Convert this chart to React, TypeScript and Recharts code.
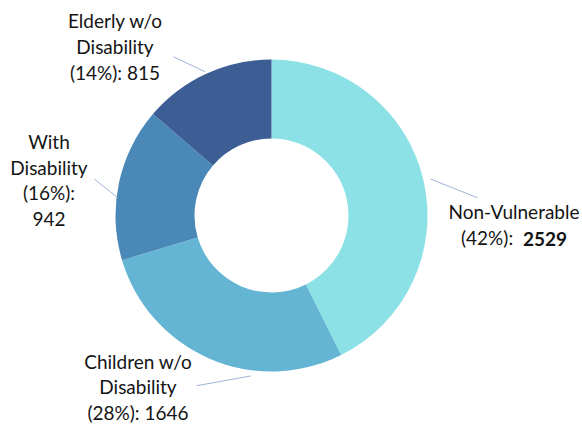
import React from "react";
import { PieChart, Pie, Cell } from "recharts";

const categories = ["Non-Vulnerable", "Children w/o Disability", "With Disability", "Elderly w/o Disability"];
const categoryLines = [["Non-Vulnerable"], ["Children w/o", "Disability"], ["With", "Disability"], ["Elderly w/o", "Disability"]];
const values = [2529, 1646, 942, 815];
const percentLabels = ["42%", "28%", "16%", "14%"];
const colors = ["#8be1e6", "#64b5d3", "#4a89b7", "#3c5e95"];

const data = categories.map((name, i) => ({ name, value: values[i] }));

// label layout relative to pie center: text center x, first line y, line gap, leader line
const LABEL_LAYOUT = [
  { dx: 242.5, dy: -4.5, gap: 26.5, valueNewLine: false, boldValue: true, line: [159, -36.5, 205.8, -17.8] },
  { dx: -133.5, dy: 145.5, gap: 25.5, valueNewLine: false, boldValue: false, line: [-20.8, 160.5, -74.8, 170.2] },
  { dx: -222.5, dy: -73.8, gap: 25.5, valueNewLine: true, boldValue: false, line: [-177.2, -36.5, -154.2, -18.2] },
  { dx: -156.5, dy: -195.5, gap: 26, valueNewLine: false, boldValue: false, line: [-98.2, -158.8, -66.5, -143.8] },
];

const FONT = "Lato, 'Open Sans', sans-serif";

const renderLabel = (props: any) => {
  const { cx, cy, index } = props;
  const L = LABEL_LAYOUT[index];
  const x = cx + L.dx;
  const lines: React.ReactNode[] = categoryLines[index].map((t) => t);
  const pct = `(${percentLabels[index]}):`;
  const val = String(values[index]);
  const rows: React.ReactNode[] = [...lines];
  if (L.valueNewLine) {
    rows.push(pct);
    rows.push(val);
  } else if (L.boldValue) {
    rows.push(
      <>
        {pct + "\u00a0 "}
        <tspan fontWeight={700}>{val}</tspan>
      </>
    );
  } else {
    rows.push(pct + " " + val);
  }
  return (
    <g key={`lbl-${index}`}>
      <line
        x1={cx + L.line[0]}
        y1={cy + L.line[1]}
        x2={cx + L.line[2]}
        y2={cy + L.line[3]}
        stroke="#9fb4d9"
        strokeWidth={1}
      />
      {rows.map((r, i) => (
        <text
          key={i}
          x={x}
          y={cy + L.dy + i * L.gap}
          textAnchor="middle"
          dominantBaseline="central"
          fontFamily={FONT}
          fontSize={19}
          fill="#141414"
        >
          {r}
        </text>
      ))}
    </g>
  );
};

export default function App() {
  return (
    <div style={{ position: "absolute", left: 0, top: 0, width: 582, height: 424, background: "#fff" }}>
      <PieChart width={582} height={424} margin={{ top: 0, right: 0, bottom: 0, left: 0 }}>
        <Pie
          data={data}
          dataKey="value"
          nameKey="name"
          cx={271.5}
          cy={215.5}
          innerRadius={77}
          outerRadius={156}
          startAngle={90}
          endAngle={-270}
          stroke="none"
          label={renderLabel}
          labelLine={false}
          isAnimationActive={false}
        >
          {data.map((d, i) => (
            <Cell key={d.name} fill={colors[i]} />
          ))}
        </Pie>
      </PieChart>
    </div>
  );
}
